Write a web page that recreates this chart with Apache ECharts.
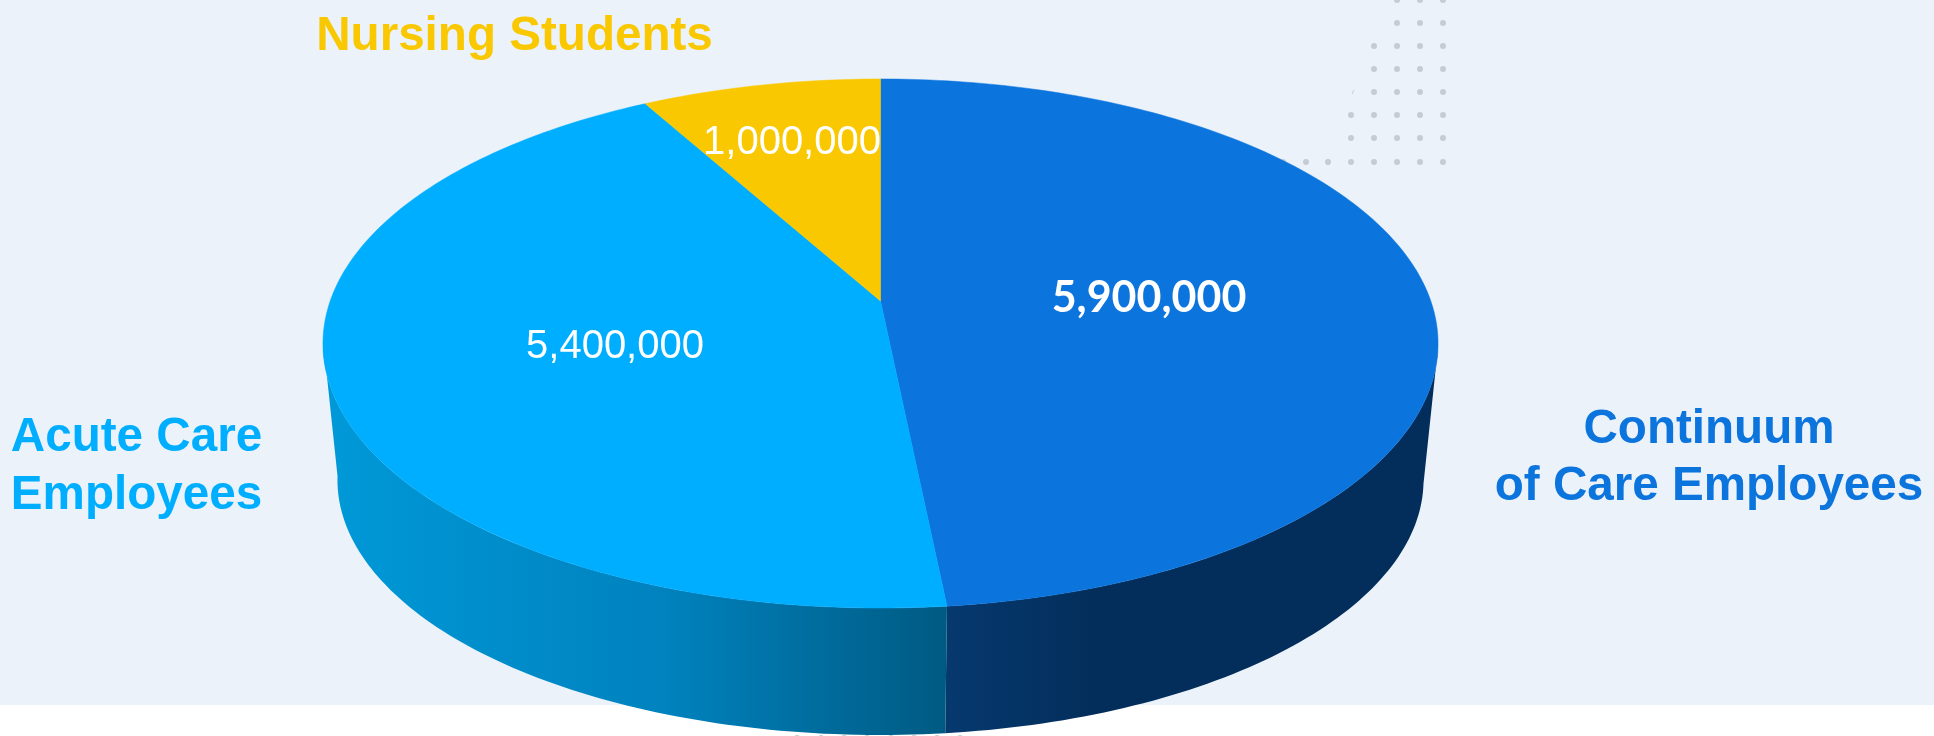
<!DOCTYPE html>
<html>
<head>
<meta charset="utf-8">
<style>html,body{margin:0;padding:0;background:#fff}#c{width:1934px;height:736px}</style>
<script src="https://cdn.jsdelivr.net/npm/echarts@6/dist/echarts.min.js"></script>
</head>
<body>
<div id="c"></div>
<script>
const categories = ['Continuum of Care Employees', 'Acute Care Employees', 'Nursing Students'];
const values = [5900000, 5400000, 1000000];
const valueLabels = ['5,900,000', '5,400,000', '1,000,000'];

const topColors = ['#0B74DD', '#00AEFF', '#FAC800'];
const wallStops = [
  [[0, '#06396F'], [0.3, '#032E5B'], [1, '#032E5B']],
  [[0, '#0099D8'], [0.55, '#0082BE'], [1, '#005A82']],
  null
];

// Projection of the disc onto the picture
const view = {cx: 880.5, apexY: 301, a: 550.3, b: 257.7, k: 0.1607,
  midY: 343.5, lowY: 480, lowSx: 0.974, lowSy: 0.964, warpDeg: 1.5};
function warp(deg) {
  return deg + view.warpDeg * (1 - Math.cos(deg * Math.PI / 180)) / 2;
}
function upperRim(deg) {
  const t = warp(deg) * Math.PI / 180, u = Math.sin(t), v = -Math.cos(t), w = 1 / (1 - view.k * v);
  return [view.cx + view.a * u * w, view.apexY + view.b * v * w];
}
function lowerRim(deg) {
  const p = upperRim(deg);
  return [view.cx + (p[0] - view.cx) * view.lowSx, view.lowY + (p[1] - view.midY) * view.lowSy];
}
function arc(fn, from, to) {
  const out = [], n = Math.max(2, Math.ceil(Math.abs(to - from)));
  for (let i = 0; i <= n; i++) out.push(fn(from + (to - from) * i / n));
  return out;
}

const total = values.reduce((s, x) => s + x, 0);
const FRONT_FROM = 99.2, FRONT_TO = 260.8;

function renderSlice(params, api) {
  const i = params.dataIndex;
  const startDeg = values.slice(0, i).reduce((s, x) => s + x, 0) / total * 360;
  const endDeg = startDeg + api.value(0) / total * 360;
  const children = [];
  const from = Math.max(startDeg, FRONT_FROM), to = Math.min(endDeg, FRONT_TO);
  if (to > from && wallStops[i]) {
    const pts = arc(upperRim, from, to).concat(arc(lowerRim, to, from));
    const xs = pts.map(p => p[0]);
    const x0 = Math.min(...xs), x1 = Math.max(...xs);
    const stops = wallStops[i];
    children.push({
      type: 'polygon', shape: {points: pts}, z2: 1,
      style: {fill: new echarts.graphic.LinearGradient(x0, 0, x1, 0,
        stops.map(s => ({offset: s[0], color: s[1]})), true), stroke: null}
    });
  }
  const apex = [view.cx, view.apexY];
  children.push({
    type: 'polygon', shape: {points: [apex].concat(arc(upperRim, startDeg, endDeg))}, z2: 2,
    style: {fill: topColors[i], stroke: topColors[i], lineWidth: 0.5}
  });
  return {type: 'group', children};
}

// Decorative dot field behind the pie: [row y, first x]
const dotXs = [1283, 1306, 1328, 1351, 1374, 1397, 1420, 1443];
const dotRows = [[0, 1397], [23, 1397], [46, 1374], [69, 1374], [92, 1374], [115, 1351], [138, 1351], [162, 1283]];
const dots = [];
dotRows.forEach(r => dotXs.filter(x => x >= r[1]).forEach(x => {
  dots.push({type: 'circle', shape: {cx: x, cy: r[0], r: 3}, style: {fill: '#C5CCD3'}, z: 1});
}));
[797, 821, 844, 867, 891, 914, 937, 960].forEach(x => {
  dots.push({type: 'circle', shape: {cx: x, cy: 738, r: 3}, style: {fill: '#C5CCD3'}, z: 1});
});
dots.push({type: 'line', shape: {x1: 1352, y1: 94, x2: 1354, y2: 90}, style: {stroke: '#C5CCD3', lineWidth: 1}, z: 1});

const labelBold = {fontFamily: '"Liberation Sans", Arial, sans-serif', fontWeight: 'bold'};
function text(x, y, t, fill, size, extra) {
  return {type: 'text', x, y, z: 5, style: Object.assign({
    text: t, fill, fontSize: size, textAlign: 'center', textVerticalAlign: 'middle'
  }, labelBold, extra || {})};
}

const chart = echarts.init(document.getElementById('c'), null, {renderer: 'canvas'});
chart.setOption({
  animation: false,
  backgroundColor: '#fff',
  graphic: [
    {type: 'rect', shape: {x: 0, y: 0, width: 1934, height: 705}, style: {fill: '#EBF2FA'}, z: 0}
  ].concat(dots).concat([
    text(514.5, 37, categories[2], topColors[2], 47.6),
    text(136.5, 438, 'Acute Care', topColors[1], 47.6),
    text(136.5, 496, 'Employees', topColors[1], 47.6),
    text(1709, 430, 'Continuum', topColors[0], 47.6),
    text(1709, 487, 'of Care Employees', topColors[0], 47.6),
    text(1149, 298, valueLabels[0], '#fff', 43, {fontFamily: 'Lato, sans-serif', fontWeight: 'bold'}),
    text(615, 346.5, valueLabels[1], '#fff', 40, {fontWeight: 'normal'}),
    text(792, 142.5, valueLabels[2], '#fff', 40, {fontWeight: 'normal'})
  ]),
  series: [{
    type: 'custom',
    coordinateSystem: 'none',
    z: 3,
    silent: true,
    data: categories.map((name, i) => ({name, value: [values[i]]})),
    renderItem: renderSlice
  }]
});
</script>
</body>
</html>
